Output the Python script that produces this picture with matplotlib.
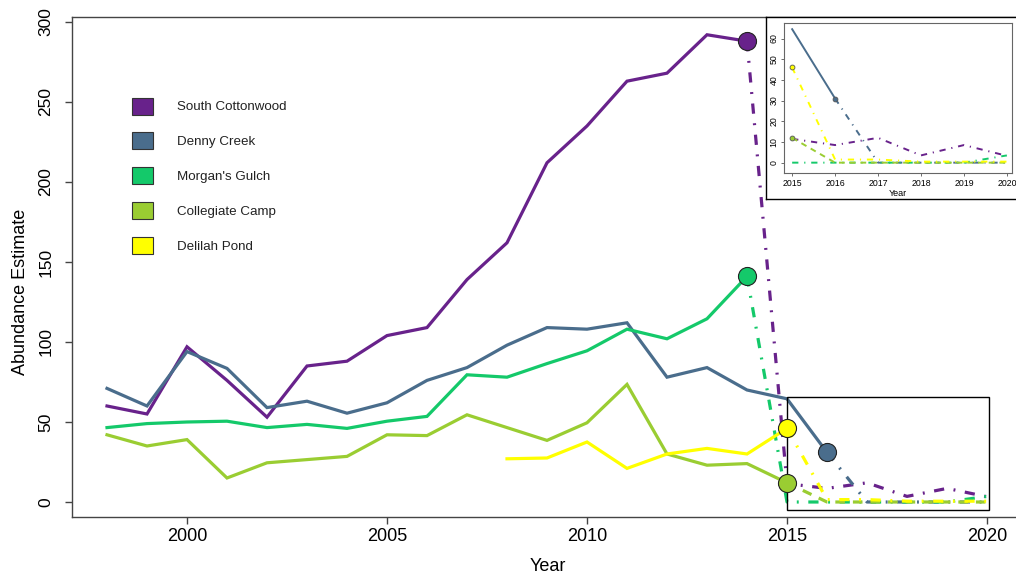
import numpy as np
import matplotlib
matplotlib.use('Agg')
import matplotlib.pyplot as plt
from matplotlib.patches import Patch, Rectangle

plt.rcParams['font.family'] = ['Liberation Sans', 'DejaVu Sans']
plt.rcParams['text.color'] = '#222222'

###############################################
# datos
###############################################
years = np.arange(1998, 2021)

nombres = ['South Cottonwood', 'Denny Creek', "Morgan's Gulch",
           'Collegiate Camp', 'Delilah Pond']
colores = ['#68228B', '#4A6D8C', '#14C96A', '#9ACD32', '#FFFF00']

south_cottonwood = [60, 55, 97, 76, 53, 85, 88, 104, 109, 139, 162, 212, 235,
                    263, 268, 292, 288, 11.5, 8.5, 12, 3.5, 8.5, 3.3]
denny_creek = [71, 60, 94, 83.5, 59, 63, 55.5, 62, 76, 84, 98, 109, 108,
               112, 78, 84, 70, 64.5, 31, 0, 0, 0, 0]
morgans_gulch = [46.5, 49, 50, 50.5, 46.5, 48.5, 46, 50.5, 53.5, 79.5, 78,
                 86.5, 94.5, 108, 102, 114.5, 141, 0, 0, 0, 0, 0, 3.5]
collegiate_camp = [42, 35, 39, 15, 24.5, 26.5, 28.5, 42, 41.5, 54.5, 46.5,
                   38.5, 49.5, 73.5, 30, 23, 24, 12, 0, 0, 0, 0, 0]
delilah_pond = [np.nan] * 10 + [27, 27.5, 37.5, 21, 30, 33.5, 30, 46,
                                1.5, 1.5, 0.5, 0.5, 0.5]

series = [south_cottonwood, denny_creek, morgans_gulch, collegiate_camp, delilah_pond]
# ultimo anio observado, despues viene la proyeccion
ultimo_obs = [2014, 2016, 2014, 2015, 2015]

dashdot = (0, (3.2, 3, 0.6, 3))
dashed = (0, (3, 2.5))
estilos_pred = [dashdot, dashdot, dashdot, dashed, dashdot]

###############################################
fig = plt.figure(figsize=(10.16, 5.78), dpi=100)
W, H = 1016.0, 578.0


def px_axes(x0, y0, x1, y1, **kw):
    # rectangulo en pixeles (origen arriba a la izquierda)
    return fig.add_axes([x0 / W, 1 - y1 / H, (x1 - x0) / W, (y1 - y0) / H], **kw)


ax = px_axes(72, 17, 1017, 517)

for nombre, vals, col, fin, est in zip(nombres, series, colores, ultimo_obs, estilos_pred):
    vals = np.array(vals, dtype=float)
    obs = years <= fin
    pred = years >= fin
    ax.plot(years[obs], vals[obs], color=col, lw=2.3, solid_joinstyle='miter', zorder=3)
    ax.plot(years[pred], vals[pred], color=col, lw=2.3, linestyle=est, zorder=3)

for vals, col, fin in zip(series, colores, ultimo_obs):
    i = list(years).index(fin)
    ax.plot(fin, vals[i], 'o', ms=13, mfc=col, mec='#222222', mew=0.8, zorder=5)

# recuadro de la zona ampliada
ax.add_patch(Rectangle((2015, -5), 5.05, 70.4, fill=False, ec='black', lw=1.0, zorder=4))

ax.set_xlim(1997.125, 2020.75)
ax.set_ylim(-9.375, 303.1)
ax.set_xticks([2000, 2005, 2010, 2015, 2020])
ax.set_yticks(np.arange(0, 301, 50))
ax.tick_params(axis='x', labelsize=13, length=5, width=1, color='#444444', pad=3)
ax.tick_params(axis='y', labelsize=12.5, length=5, width=1, color='#444444',
               pad=8.5, labelrotation=90)
for lbl in ax.get_yticklabels():
    lbl.set_va('center')
for s in ax.spines.values():
    s.set_color('#444444')
    s.set_linewidth(1.0)

ax.set_xlabel('Year', fontsize=13)
ax.xaxis.set_label_coords(0.503, -0.082)
ax.set_ylabel('Abundance Estimate', fontsize=13)
ax.yaxis.set_label_coords(-0.045, 0.45)

handles = [Patch(facecolor=c, edgecolor='#333333', lw=0.8) for c in colores]
ax.legend(handles, nombres, loc='upper left', bbox_to_anchor=(131.7 / W, 1 - 97.5 / H),
          bbox_transform=fig.transFigure, frameon=False, borderpad=0, borderaxespad=0,
          fontsize=9.6, handlelength=1.6, handleheight=1.6, handletextpad=1.8,
          labelspacing=1.33)

###############################################
# grafico ampliado 2015-2020
###############################################
marco = px_axes(765.5, 16.5, 1020, 198.5, zorder=10)
marco.set_xticks([])
marco.set_yticks([])
for s in marco.spines.values():
    s.set_color('black')
    s.set_linewidth(1.0)

axi = px_axes(784, 23, 1012, 173, zorder=11)
sel = years >= 2015
for vals, col, fin, est in zip(series, colores, ultimo_obs, estilos_pred):
    vals = np.array(vals, dtype=float)
    obs = sel & (years <= fin)
    pred = sel & (years >= fin)
    if obs.sum() > 1:
        axi.plot(years[obs], vals[obs], color=col, lw=1.4)
    axi.plot(years[pred], vals[pred], color=col, lw=1.4, linestyle=est)
for vals, col, fin in zip(series, colores, ultimo_obs):
    if fin >= 2015:
        i = list(years).index(fin)
        axi.plot(fin, vals[i], 'o', ms=3.5, mfc=col, mec='#555555', mew=0.6, zorder=5)

axi.set_xlim(2014.81, 2020.12)
axi.set_ylim(-5, 67.5)
axi.set_xticks(np.arange(2015, 2021))
axi.set_yticks(np.arange(0, 61, 10))
axi.tick_params(axis='both', labelsize=6.3, length=2.5, width=0.6, color='#555555', pad=1.5)
axi.tick_params(axis='y', labelrotation=90)
for lbl in axi.get_yticklabels():
    lbl.set_va('center')
for s in axi.spines.values():
    s.set_color('#666666')
    s.set_linewidth(0.8)
axi.set_xlabel('Year', fontsize=6.5, labelpad=1)

fig.savefig('out.png', dpi=100)
